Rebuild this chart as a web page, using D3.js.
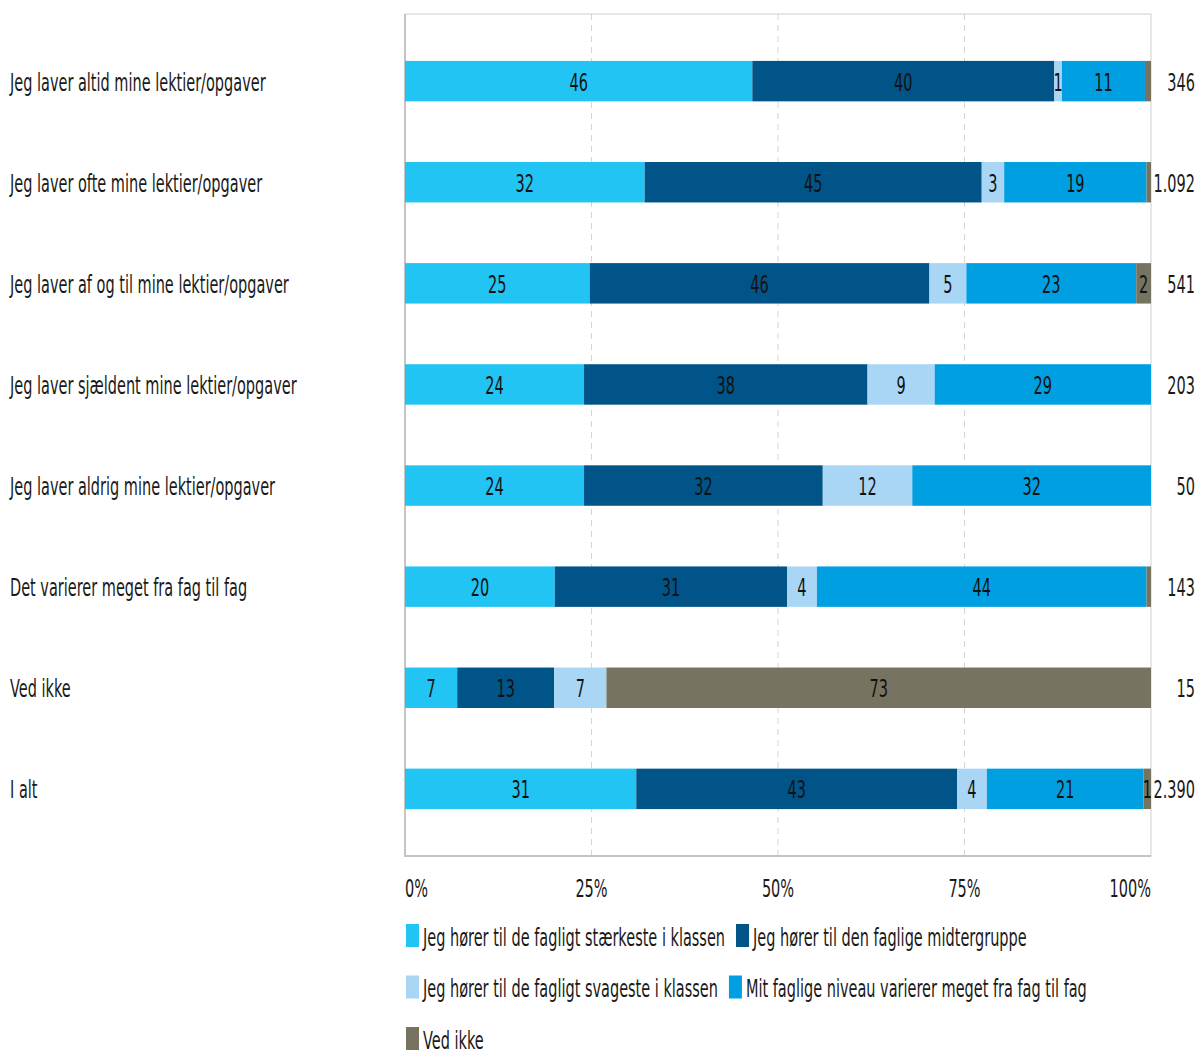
<!DOCTYPE html>
<html>
<head>
<meta charset="utf-8">
<script src="https://cdn.jsdelivr.net/npm/d3@7"></script>
<style>
  html, body { margin: 0; padding: 0; background: #fff; }
  svg { display: block; }
  text { font-family: "DejaVu Sans", Verdana, sans-serif; fill: #1a1a1a; }
</style>
</head>
<body>
<svg id="chart" width="1198" height="1055"></svg>
<script>
// Survey: homework habits vs. self-assessed academic level (row percentages)
const categories = [
  "Jeg laver altid mine lektier/opgaver",
  "Jeg laver ofte mine lektier/opgaver",
  "Jeg laver af og til mine lektier/opgaver",
  "Jeg laver sjældent mine lektier/opgaver",
  "Jeg laver aldrig mine lektier/opgaver",
  "Det varierer meget fra fag til fag",
  "Ved ikke",
  "I alt"
];
const seriesNames = [
  "Jeg hører til de fagligt stærkeste i klassen",
  "Jeg hører til den faglige midtergruppe",
  "Jeg hører til de fagligt svageste i klassen",
  "Mit faglige niveau varierer meget fra fag til fag",
  "Ved ikke"
];
const strongest = [46, 32, 25, 24, 24, 20, 7, 31];
const middle    = [40, 45, 46, 38, 32, 31, 13, 43];
const weakest   = [1, 3, 5, 9, 12, 4, 7, 4];
const varies    = [11, 19, 23, 29, 32, 44, 0, 21];
const dontKnow  = [0.8, 0.6, 2, 0, 0, 0.6, 73, 1];
const totals = ["346", "1.092", "541", "203", "50", "143", "15", "2.390"];
const tickValues = [0, 25, 50, 75, 100];
const colors = ["#21c4f2", "#005487", "#a9d6f5", "#009fe2", "#767461"];

const SX = 0.58;      // horizontal squeeze applied to all text
const FS = 25;        // font size

const svg = d3.select("#chart");
const plot = { left: 405, right: 1151, top: 14, bottom: 856 };

const seriesData = [strongest, middle, weakest, varies, dontKnow];
const rows = categories.map((c, i) => {
  const r = { cat: c };
  seriesData.forEach((s, k) => r["s" + k] = s[i]);
  return r;
});
const keys = seriesData.map((_, k) => "s" + k);
const stacked = d3.stack().keys(keys).offset(d3.stackOffsetExpand)(rows);

const x = d3.scaleLinear().domain([0, 1]).range([plot.left, plot.right]);
const y = d3.scaleBand().domain(categories).range([plot.top, plot.bottom])
  .paddingInner(0.6).paddingOuter(0.464);

function squeezedText(g, tx, ty, str, anchor, size) {
  return g.append("text")
    .attr("transform", `translate(${tx},${ty}) scale(${SX},1)`)
    .attr("text-anchor", anchor || "start")
    .attr("dominant-baseline", "central")
    .style("font-size", (size || FS) + "px")
    .text(str);
}

// grid lines
const grid = svg.append("g");
grid.selectAll("line").data(tickValues.slice(1, -1)).join("line")
  .attr("x1", d => x(d / 100)).attr("x2", d => x(d / 100))
  .attr("y1", plot.top).attr("y2", plot.bottom)
  .attr("stroke", "#d4d4d4").attr("stroke-width", 1)
  .attr("stroke-dasharray", "6,5");

// frame
svg.append("rect")
  .attr("x", plot.left).attr("y", plot.top)
  .attr("width", plot.right - plot.left).attr("height", plot.bottom - plot.top)
  .attr("fill", "none").attr("stroke", "#d0d0d0").attr("stroke-width", 1);
svg.append("path")
  .attr("d", `M${plot.left},${plot.top}V${plot.bottom}H${plot.right}`)
  .attr("fill", "none").attr("stroke", "#c4c4c4").attr("stroke-width", 2);

// bars
const layers = svg.append("g").selectAll("g").data(stacked).join("g")
  .attr("fill", (d, i) => colors[i]);
layers.selectAll("rect").data(d => d).join("rect")
  .attr("x", d => x(d[0]))
  .attr("width", d => Math.max(0, x(d[1]) - x(d[0])))
  .attr("y", d => y(d.data.cat))
  .attr("height", y.bandwidth());

// value labels
const lab = svg.append("g");
stacked.forEach((layer, k) => {
  layer.forEach(d => {
    const v = d.data["s" + k];
    if (v >= 1) {
      squeezedText(lab, (x(d[0]) + x(d[1])) / 2, y(d.data.cat) + y.bandwidth() / 2 + 1,
        String(v), "middle", FS).style("fill", "#111");
    }
  });
});

// category labels
const cl = svg.append("g");
categories.forEach(c => squeezedText(cl, 10, y(c) + y.bandwidth() / 2 + 1, c, "start"));

// totals
const tl = svg.append("g");
categories.forEach((c, i) => squeezedText(tl, 1195, y(c) + y.bandwidth() / 2 + 1, totals[i], "end"));

// x ticks
const xt = svg.append("g");
tickValues.forEach((t, i) => {
  const anchor = i === 0 ? "start" : (i === tickValues.length - 1 ? "end" : "middle");
  squeezedText(xt, x(t / 100), 888, t + "%", anchor);
});

// legend (flowing items)
const leg = svg.append("g");
let lx = plot.left + 1, ly = 936;
const rowGap = 51.5, maxX = plot.right;
seriesNames.forEach((name, i) => {
  const tmp = squeezedText(leg, 0, 0, name, "start");
  const w = tmp.node().getComputedTextLength() * SX;
  tmp.remove();
  const itemW = 13 + 4 + w;
  if (lx + itemW > maxX && lx > plot.left + 1) { lx = plot.left + 1; ly += rowGap; }
  leg.append("rect").attr("x", lx).attr("y", ly - 12).attr("width", 13).attr("height", 23)
    .attr("fill", colors[i]);
  squeezedText(leg, lx + 17, ly + 1, name, "start");
  lx += itemW + 11;
});
</script>
</body>
</html>
